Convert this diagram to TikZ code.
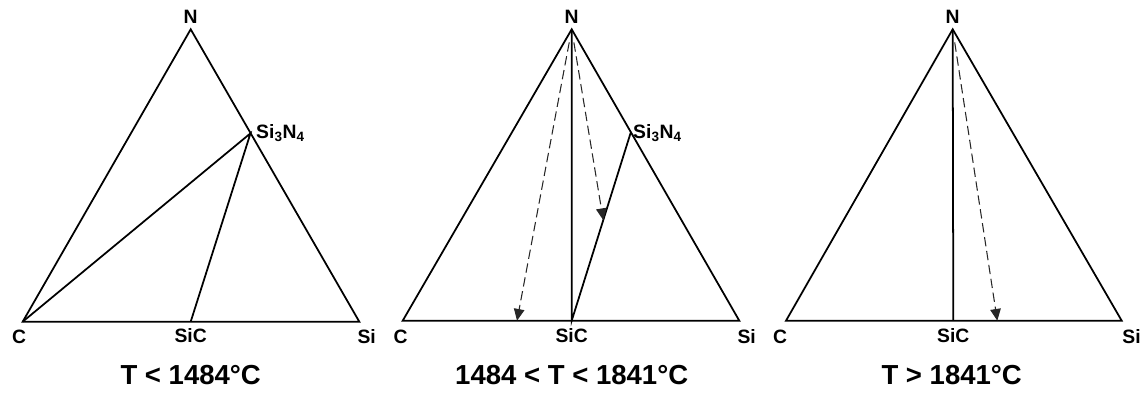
\documentclass[tikz,border=0pt]{standalone}
\usepackage{fontspec}
\setmainfont{Liberation Sans}
\usetikzlibrary{arrows.meta,calc}

\begin{document}
\begin{tikzpicture}[x=0.03cm, y=-0.03cm, every node/.style={font=\bfseries\fontsize{16.5}{19}\selectfont, inner sep=0pt}]
  \tikzstyle{edge}=[line width=1.5pt, line join=miter]
  \tikzstyle{tieline}=[line width=0.9pt, color=black!85, dash pattern=on 8pt off 4pt, shorten <=0.4cm,
  -{Triangle[length=10pt, width=9pt]}]
  \tikzstyle{title}=[font=\bfseries\fontsize{23.5}{27}\selectfont]
  \useasboundingbox (0,0) rectangle (1141,401);

  % T < 1484
  \coordinate (N1) at (190.7,29.3);
  \coordinate (C1) at (22.7,321.7);
  \coordinate (Si1) at (359.3,321.7);
  \coordinate (SiC1) at (190.7,321.7);
  \coordinate (SiN1) at (250.5,133.3);
  \draw[edge] (N1) -- (C1) -- (Si1) -- cycle;
  \draw[edge] (C1) -- (SiN1) -- (SiC1);
  \node (labN1) at (190.7,17) {N};
  \node (labC1) at (19,337) {C};
  \node (labSiC1) at (190.7,336) {SiC};
  \node (labSi1) at (366.7,337) {Si};
  \node[anchor=west] (labSiN1) at (256,133) {Si\textsubscript{3}N\textsubscript{4}};
  \node[title] (tit1) at (190.7,375) {T < 1484°C};

  % 1484 < T < 1841
  \coordinate (N2) at (571.7,29.3);
  \coordinate (C2) at (402.7,320.7);
  \coordinate (Si2) at (739.3,320.7);
  \coordinate (SiC2) at (571.7,320.7);
  \coordinate (SiN2) at (630.7,132.7);
  \coordinate (endA2) at (517,320.7);
  \coordinate (endB2) at ($(SiC2)!0.535!(SiN2)$);
  \draw[edge] (N2) -- (C2) -- (Si2) -- cycle;
  \draw[edge] (N2) -- (SiC2) -- (SiN2);
  \draw[tieline] (N2) -- (endA2);
  \draw[tieline] (N2) -- (endB2);
  \node (labN2) at (571.7,17) {N};
  \node (labC2) at (400.7,337) {C};
  \node (labSiC2) at (571.7,336) {SiC};
  \node (labSi2) at (746.7,337) {Si};
  \node[anchor=west] (labSiN2) at (633,133) {Si\textsubscript{3}N\textsubscript{4}};
  \node[title] (tit2) at (571.7,375) {1484 < T < 1841°C};

  % T > 1841
  \coordinate (N3) at (952.7,29.3);
  \coordinate (C3) at (786,320.7);
  \coordinate (Si3) at (1121.7,320.7);
  \coordinate (SiC3) at (953.3,320.7);
  \coordinate (end3) at (997.3,320.7);
  \draw[edge] (N3) -- (C3) -- (Si3) -- cycle;
  \draw[edge] (N3) -- (SiC3);
  \draw[tieline] (N3) -- (end3);
  \node (labN3) at (952.7,17) {N};
  \node (labC3) at (780,337) {C};
  \node (labSiC3) at (953.3,336) {SiC};
  \node (labSi3) at (1131.5,337) {Si};
  \node[title] (tit3) at (951.7,375) {T > 1841°C};
\end{tikzpicture}
\end{document}
